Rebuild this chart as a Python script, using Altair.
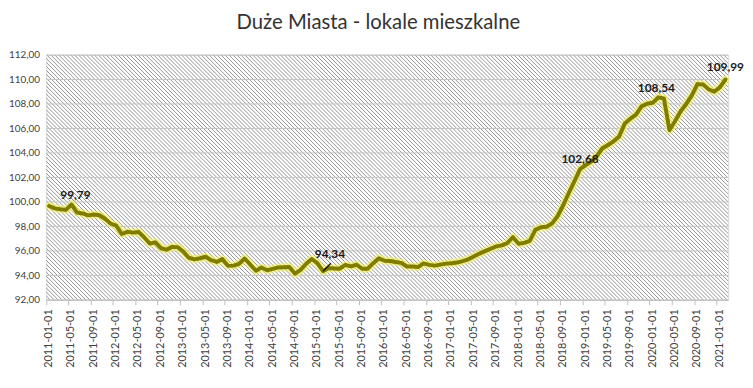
import altair as alt
import pandas as pd

# ---- data -------------------------------------------------------------
months = [f"{y}-{m:02d}-01" for y in range(2011, 2022) for m in range(1, 13)][:122]

values = [
    99.67, 99.47, 99.40, 99.35, 99.79, 99.13, 99.06, 98.90, 98.97, 98.91, 98.63, 98.24,
    98.06, 97.38, 97.56, 97.49, 97.55, 97.12, 96.60, 96.70, 96.22, 96.10, 96.33, 96.31,
    95.95, 95.44, 95.31, 95.40, 95.52, 95.24, 95.10, 95.33, 94.78, 94.80, 94.95, 95.38,
    94.88, 94.38, 94.64, 94.42, 94.53, 94.65, 94.66, 94.68, 94.14, 94.45, 94.95, 95.34,
    95.00, 94.34, 94.60, 94.57, 94.55, 94.86, 94.74, 94.87, 94.55, 94.55, 95.00, 95.40,
    95.20, 95.18, 95.10, 95.02, 94.73, 94.72, 94.68, 94.98, 94.86, 94.80, 94.88, 94.96,
    95.00, 95.05, 95.17, 95.31, 95.55, 95.78, 95.98, 96.18, 96.37, 96.45, 96.65, 97.12,
    96.58, 96.66, 96.82, 97.72, 97.93, 97.97, 98.25, 98.85, 99.75, 100.75, 101.70, 102.68,
    103.00, 103.30, 103.75, 104.38, 104.65, 104.95, 105.35, 106.40, 106.80, 107.12, 107.80, 108.02,
    108.10, 108.54, 108.45, 105.85, 106.60, 107.40, 108.00, 108.70, 109.62, 109.58, 109.20, 109.00,
    109.35, 109.99,
]

tick_labels = months[::4]
y_ticks = [92, 94, 96, 98, 100, 102, 104, 106, 108, 110, 112]

label_months = ["2011-05-01", "2015-02-01", "2018-12-01", "2020-02-01", "2021-02-01"]
label_values = [99.79, 94.34, 102.68, 108.54, 109.99]

title_text = "Duże Miasta - lokale mieszkalne"

# ---- styling ----------------------------------------------------------
W, H = 689, 247.5
FONT = "Lato"
TXT = "#404040"
GRID = "#c4c4c4"
HATCH = "#929292"
P = 4.0                       # hatch spacing in px
n_hatch = int((W + H) / P) + 2

df = pd.DataFrame({"month": months, "value": values})
grid_df = pd.DataFrame({"value": y_ticks})
lab_df = pd.DataFrame({"month": label_months, "value": label_values})

x_scale = alt.Scale(type="band", domain=months, paddingInner=0, paddingOuter=0)
x_axis = alt.Axis(
    values=tick_labels, bandPosition=0, labelAngle=-90, title=None, grid=False,
    domain=True, domainColor="#bfbfbf", tickColor="#bfbfbf", tickSize=5,
    labelPadding=4, labelFont=FONT, labelFontSize=11, labelColor=TXT,
)
X = alt.X("month:O", sort=months, scale=x_scale, axis=x_axis)
Y = alt.Y(
    "value:Q",
    scale=alt.Scale(domain=[92, 112], nice=False, zero=False),
    axis=alt.Axis(
        values=y_ticks, labelExpr="replace(format(datum.value, '.2f'), '.', ',')",
        domain=False, ticks=False, grid=False, title=None, labelPadding=7,
        labelFont=FONT, labelFontSize=10, labelColor=TXT,
    ),
)

# background diagonal hatch ("\" direction), clipped to the plot area
hatch = alt.Chart(alt.sequence(0, n_hatch, as_="k")).transform_calculate(
    hx=f"datum.k * {P} - {H}", hx2=f"datum.k * {P}", hy="0", hy2=f"{H}"
).mark_rule(color=HATCH, strokeWidth=1, clip=True).encode(
    x=alt.X("hx:Q", scale=None), x2="hx2:Q",
    y=alt.Y("hy:Q", scale=None), y2="hy2:Q",
)

grid = alt.Chart(grid_df).mark_rule(color=GRID, strokeWidth=1).encode(
    y=Y, x=alt.value(0), x2=alt.value("width")
)

halo = alt.Chart(df).mark_line(color="#f2ee55", strokeWidth=8, opacity=0.6,
                               strokeJoin="round", strokeCap="round").encode(x=X, y=Y)
core = alt.Chart(df).mark_line(color="#7f7c00", strokeWidth=4,
                               strokeJoin="round", strokeCap="round").encode(x=X, y=Y)

lab_base = alt.Chart(lab_df).transform_calculate(
    txt="replace(format(datum.value, '.2f'), '.', ',')"
)

def lab(month, dx, dy):
    return lab_base.transform_filter(alt.datum.month == month).mark_text(
        font=FONT, fontSize=12, fontWeight="bold", color="#1a1a1a", dx=dx, dy=dy
    ).encode(x=X, y=Y, text="txt:N")

labels = [
    lab("2011-05-01", 4, -10),
    lab("2015-02-01", 7, -17),
    lab("2018-12-01", 0, -10),
    lab("2020-02-01", -2, -9),
    lab("2021-02-01", 0, -13),
]

# short leader line from the 94,34 point up-right towards its label
leader = lab_base.transform_filter(alt.datum.month == "2015-02-01").mark_rule(
    color="#111111", strokeWidth=1.3, x2Offset=8, y2Offset=-8
).encode(
    x=alt.X("month:O", bandPosition=0.5, sort=months, scale=x_scale, axis=x_axis),
    x2=alt.X2("month:O", bandPosition=0.5),
    y=Y, y2="value:Q",
)

chart = alt.layer(hatch, grid, halo, core, leader, *labels).properties(
    width=W,
    height=H,
    autosize=alt.AutoSizeParams(type="none"),
    padding={"left": 38.7, "top": 45.5, "right": 17, "bottom": 80},
    title=alt.TitleParams(title_text, font=FONT, fontSize=20.5, fontWeight="normal",
                          color="#333333", dx=-9, offset=17),
).configure_view(strokeWidth=0).configure(background="#ffffff")

chart.save("out.html", embed_options={"renderer": "svg", "actions": False})
